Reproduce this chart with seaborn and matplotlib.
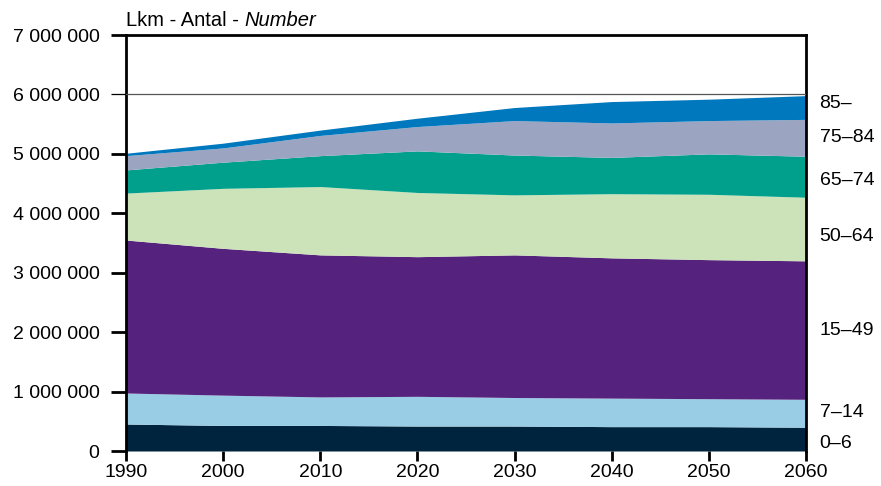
import matplotlib
matplotlib.use("Agg")
import matplotlib.pyplot as plt
import matplotlib.ticker as mticker
import numpy as np
import seaborn as sns

#%%
'''DATA'''
years = [1990, 2000, 2010, 2020, 2030, 2040, 2050, 2060]
groups = ["0–6", "7–14", "15–49", "50–64", "65–74", "75–84", "85–"]

#Population per age group (thousands)
age_0_6 = [454, 430, 430, 420, 420, 410, 410, 400]
age_7_14 = [522, 510, 480, 500, 480, 480, 470, 470]
age_15_49 = [2574, 2470, 2390, 2350, 2400, 2360, 2340, 2330]
age_50_64 = [790, 1010, 1150, 1080, 1010, 1080, 1100, 1070]
age_65_74 = [390, 440, 520, 700, 670, 610, 680, 690]
age_75_84 = [240, 240, 340, 410, 580, 580, 560, 620]
age_85 = [40, 80, 90, 140, 220, 360, 360, 400]

#Label heights on the right side (persons)
label_y = [130000, 640000, 2020000, 3610000, 4560000, 5270000, 5840000]

colors = ["#00243d", "#99cde5", "#55237d", "#cce2b8", "#00a08c", "#9ba5c1", "#0078be"]

#%%
'''PLOT'''
sns.set_style("white")
plt.rcParams['font.family'] = ['Liberation Sans', 'DejaVu Sans']
plt.rcParams['text.color'] = 'black'
plt.rcParams['xtick.color'] = 'black'
plt.rcParams['ytick.color'] = 'black'

fig = plt.figure(figsize=(8.81, 4.86), dpi=100)
ax = fig.add_axes([126/881, 35/486, 680/881, 416/486])

series = [age_0_6, age_7_14, age_15_49, age_50_64, age_65_74, age_75_84, age_85]
values = np.array(series, dtype=float) * 1000
ax.stackplot(years, values, colors=colors, linewidth=0, zorder=2)

ax.axhline(6000000, color='#555555', lw=0.9, zorder=3)

ax.set_xlim(1990, 2060)
ax.set_ylim(0, 7000000)
ax.set_xticks(years)
ax.set_yticks(np.arange(0, 7000001, 1000000))
ax.yaxis.set_major_formatter(mticker.FuncFormatter(
    lambda v, p: f"{int(v):,}".replace(",", " ")))

for side in ['left', 'top', 'right']:
    ax.spines[side].set_visible(True)
    ax.spines[side].set_color('black')
    ax.spines[side].set_linewidth(2)
ax.spines['bottom'].set_visible(False)

ax.tick_params(axis='y', direction='out', length=11, width=2, labelsize=14, pad=8, left=True)
ax.tick_params(axis='x', direction='out', length=7, width=2, labelsize=14, pad=2, bottom=True)
ax.yaxis.get_major_ticks()[6].tick1line.set_markeredgewidth(0.9)
ax.yaxis.get_major_ticks()[6].tick1line.set_color('#555555')

#Right side labels
for g, y in zip(groups, label_y):
    ax.text(1.02, y, g, transform=ax.get_yaxis_transform(), fontsize=14,
            va='center', ha='left')

#Title
t = fig.text(126/881, 1 - 20/486, "Lkm - Antal -", fontsize=14.5, va='center', ha='left')
ax.annotate("Number", xy=(1, 0.5), xycoords=t, xytext=(4, 0), textcoords='offset points',
            fontsize=14.5, va='center', ha='left', style='italic')

fig.savefig("out.png", dpi=100)
